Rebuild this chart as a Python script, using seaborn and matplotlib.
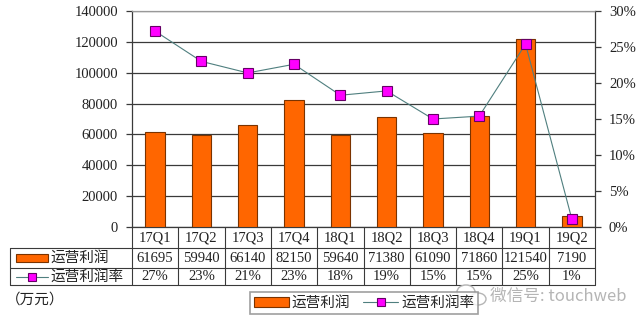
import numpy as np
import pandas as pd
import matplotlib
matplotlib.use("Agg")
import matplotlib.pyplot as plt
from matplotlib.patches import Rectangle, Ellipse
from matplotlib.lines import Line2D
from matplotlib.transforms import blended_transform_factory
import seaborn as sns

quarters = ["17Q1", "17Q2", "17Q3", "17Q4", "18Q1", "18Q2", "18Q3", "18Q4", "19Q1", "19Q2"]
op_profit = [61695, 59940, 66140, 82150, 59640, 71380, 61090, 71860, 121540, 7190]
op_margin = [0.272, 0.230, 0.214, 0.226, 0.183, 0.189, 0.150, 0.154, 0.254, 0.011]
margin_labels = ["27%", "23%", "21%", "23%", "18%", "19%", "15%", "15%", "25%", "1%"]
left_ticks = [0, 20000, 40000, 60000, 80000, 100000, 120000, 140000]
right_ticks = [0, 0.05, 0.10, 0.15, 0.20, 0.25, 0.30]

sns.set_theme(style="white")
plt.rcParams["font.family"] = ["Liberation Serif", "Noto Sans CJK SC", "DejaVu Sans"]
cjk = ["Noto Sans CJK SC", "DejaVu Sans"]

BAR = "#FF6600"
BAR_EDGE = "#7A3300"
MARK = "#FF00FF"
MARK_EDGE = "#660066"
LINE = "#4F7F7F"
GRID = "#3A3A3A"

df = pd.DataFrame({"q": quarters, "profit": op_profit, "margin": op_margin})

fig = plt.figure(figsize=(6.4, 3.23), dpi=100)
ax = fig.add_axes([132 / 640, 1 - 227 / 323, 463 / 640, 216 / 323])

sns.barplot(data=df, x="q", y="profit", color=BAR, edgecolor=BAR_EDGE,
            linewidth=0.8, width=0.42, saturation=1, ax=ax, zorder=3)
ax.set_ylim(0, 140000)
ax.set_xlim(-0.5, len(quarters) - 0.5)
ax.set_yticks(left_ticks)
ax.set_yticklabels([str(v) for v in left_ticks], fontsize=10.5, color="#222222")
ax.set_xticks([])
ax.set_xlabel("")
ax.set_ylabel("")
ax.yaxis.grid(True, color=GRID, linewidth=0.9, zorder=0)
ax.set_axisbelow(True)
ax.tick_params(axis="y", direction="out", length=4, width=0.9, color=GRID, pad=6, left=True)
for side in ["left", "right", "bottom"]:
    ax.spines[side].set_color(GRID)
    ax.spines[side].set_linewidth(0.9)
ax.spines["top"].set_color("#999999")
ax.spines["top"].set_linewidth(0.9)

ax2 = ax.twinx()
sns.lineplot(x=np.arange(len(quarters)), y=op_margin, ax=ax2, color=LINE, linewidth=0.8,
             marker="s", markersize=7, markerfacecolor=MARK, markeredgecolor=MARK_EDGE,
             markeredgewidth=0.8, zorder=5)
ax2.set_ylim(0, 0.30)
ax2.set_yticks(right_ticks)
ax2.set_yticklabels([f"{int(round(v * 100))}%" for v in right_ticks], fontsize=10.5, color="#222222")
ax2.tick_params(axis="y", direction="out", length=4, width=0.9, color=GRID, pad=6, right=True)
ax2.set_ylabel("")
for side in ["left", "right", "bottom", "top"]:
    ax2.spines[side].set_visible(False)

# data table under the plot
tr = blended_transform_factory(ax.transData, ax.transAxes)
ta = ax.transAxes
y_row1 = -21 / 216
y_row2 = -41 / 216
y_bot = -58 / 216
x_left = (10 - 132) / 463
line_kw = dict(color=GRID, linewidth=0.8, clip_on=False)

for y in (y_row1, y_row2, y_bot):
    ax.add_line(Line2D([x_left, 1], [y, y], transform=ta, **line_kw))
ax.add_line(Line2D([x_left, x_left], [y_row1, y_bot], transform=ta, **line_kw))
ax.add_line(Line2D([1, 1], [0, y_bot], transform=ta, **line_kw))
ax.add_line(Line2D([0, 0], [0, y_bot], transform=ta, **line_kw))
for i in range(1, len(quarters)):
    ax.add_line(Line2D([i - 0.5, i - 0.5], [0, y_bot], transform=tr, **line_kw))

for i, q in enumerate(quarters):
    ax.text(i, y_row1 / 2, q, transform=tr, ha="center", va="center", fontsize=10.5, color="#222222")
    ax.text(i, (y_row1 + y_row2) / 2, str(op_profit[i]), transform=tr, ha="center",
            va="center", fontsize=10.5, color="#222222")
    ax.text(i, (y_row2 + y_bot) / 2, margin_labels[i], transform=tr, ha="center",
            va="center", fontsize=10.5, color="#222222")

# row keys
ymid1 = (y_row1 + y_row2) / 2
ymid2 = (y_row2 + y_bot) / 2
ax.add_patch(Rectangle(((16 - 132) / 463, ymid1 - 0.02), 32 / 463, 0.04, transform=ta,
                       facecolor=BAR, edgecolor=BAR_EDGE, linewidth=0.8, clip_on=False))
ax.text((50 - 132) / 463, ymid1, "运营利润", transform=ta, ha="left", va="center",
        fontsize=10.5, family=cjk, color="#222222")
ax.add_line(Line2D([(16 - 132) / 463, (48 - 132) / 463], [ymid2, ymid2], transform=ta,
                   color=LINE, linewidth=0.8, clip_on=False))
ax.add_line(Line2D([(32 - 132) / 463], [ymid2], transform=ta, marker="s", markersize=6,
                   markerfacecolor=MARK, markeredgecolor=MARK_EDGE, markeredgewidth=0.8,
                   clip_on=False))
ax.text((50 - 132) / 463, ymid2, "运营利润率", transform=ta, ha="left", va="center",
        fontsize=10.5, family=cjk, color="#222222")

fig.text(6 / 640, 1 - 300 / 323, "（万元）", ha="left", va="center", fontsize=10.5,
         family=cjk, color="#222222")

# bottom legend
handles = [Rectangle((0, 0), 1, 1, facecolor=BAR, edgecolor=BAR_EDGE, linewidth=0.8),
           Line2D([0], [0], color=LINE, linewidth=0.8, marker="s", markersize=6,
                  markerfacecolor=MARK, markeredgecolor=MARK_EDGE, markeredgewidth=0.8)]
leg = fig.legend(handles, ["运营利润", "运营利润率"], loc="center",
                 bbox_to_anchor=(364 / 640, 1 - 303 / 323), ncol=2, frameon=True,
                 fancybox=False, prop={"family": cjk, "size": 10.5}, handlelength=2.4,
                 handletextpad=0.2, columnspacing=0.9, borderpad=0.25, borderaxespad=0)
leg.get_frame().set_edgecolor("#888888")
leg.get_frame().set_linewidth(1.2)

# watermark: chat-bubble icon and account name
wm = "#B5B5B5"
fig.patches.append(Ellipse((466 / 640, 1 - 292 / 323), 18 / 640, 14 / 323, transform=fig.transFigure,
                           facecolor="white", edgecolor=wm, linewidth=1.0))
fig.patches.append(Ellipse((478 / 640, 1 - 299 / 323), 16 / 640, 12 / 323, transform=fig.transFigure,
                           facecolor="white", edgecolor=wm, linewidth=1.0))
fig.text(490 / 640, 1 - 296 / 323, "微信号: touchweb", ha="left", va="center",
         fontsize=12, family=cjk, color=wm)

fig.savefig("out.png", dpi=100, facecolor="white")
